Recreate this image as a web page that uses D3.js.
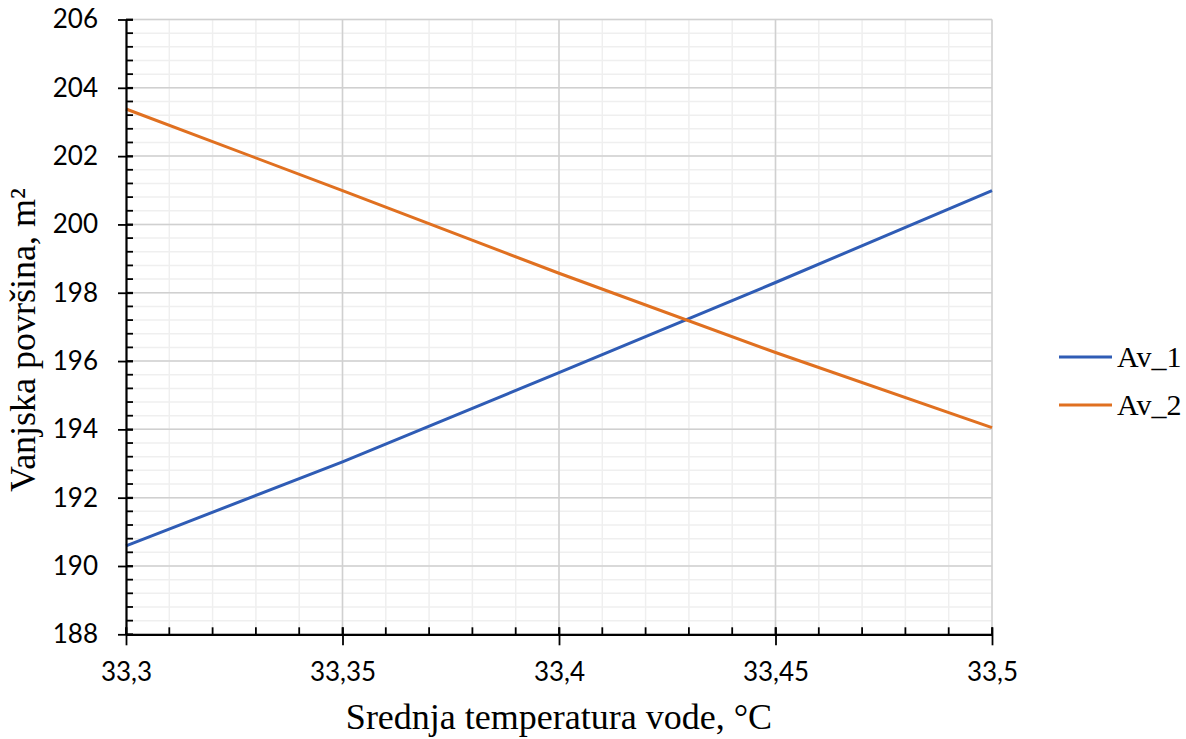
<!DOCTYPE html>
<meta charset="utf-8">
<style>
  body { margin: 0; background: #fff; }
  .tick text { font-family: Lato, "Open Sans", sans-serif; font-size: 26px; fill: #000; }
  .title { font-family: "Liberation Serif", "Times New Roman", serif; fill: #000; }
</style>
<script src="https://cdn.jsdelivr.net/npm/d3@7"></script>
<body>
<div id="graph"></div>
<script>
var temps = [33.3, 33.35, 33.4, 33.45, 33.5];
var av1 = [190.59, 193.05, 195.66, 198.30, 200.99];
var av2 = [203.38, 200.99, 198.57, 196.25, 194.05];
var seriesNames = ["Av_1", "Av_2"];
var colors = ["#2f5cb5", "#e07020"];
var xTicks = [33.3, 33.35, 33.4, 33.45, 33.5];
var yTicks = [188, 190, 192, 194, 196, 198, 200, 202, 204, 206];

var W = 1186, H = 739;
var pLeft = 126, pRight = 992, pTop = 19.5, pBottom = 634.3;

var svg = d3.select("#graph").append("svg")
  .attr("width", W).attr("height", H);

var x = d3.scaleLinear().domain([33.3, 33.5]).range([pLeft, pRight]);
var y = d3.scaleLinear().domain([188, 206]).range([pBottom, pTop]);

var fmt = function(d) { return String(+d.toFixed(2)).replace(".", ","); };

// minor grid
var xMinor = d3.range(0, 21).map(function(i) { return 33.3 + i * 0.01; });
var yMinor = d3.range(0, 46).map(function(i) { return 188 + i * 0.4; });

svg.append("g").selectAll("line").data(xMinor).enter().append("line")
  .attr("x1", d => x(d)).attr("x2", d => x(d))
  .attr("y1", pTop).attr("y2", pBottom)
  .attr("stroke", "#efefef").attr("stroke-width", 1.5);
svg.append("g").selectAll("line").data(yMinor).enter().append("line")
  .attr("x1", pLeft).attr("x2", pRight)
  .attr("y1", d => y(d)).attr("y2", d => y(d))
  .attr("stroke", "#efefef").attr("stroke-width", 1.5);

// major grid
svg.append("g").selectAll("line").data(xTicks.slice(1)).enter().append("line")
  .attr("x1", d => x(d)).attr("x2", d => x(d))
  .attr("y1", pTop).attr("y2", pBottom)
  .attr("stroke", "#d0d0d0").attr("stroke-width", 1.5);
svg.append("g").selectAll("line").data(yTicks.slice(1)).enter().append("line")
  .attr("x1", pLeft).attr("x2", pRight)
  .attr("y1", d => y(d)).attr("y2", d => y(d))
  .attr("stroke", "#d0d0d0").attr("stroke-width", 1.5);

// lines
var line = d3.line().x((d, i) => x(temps[i])).y(d => y(d));
[av1, av2].forEach(function(s, k) {
  svg.append("path").datum(s)
    .attr("d", line)
    .attr("fill", "none")
    .attr("stroke", colors[k])
    .attr("stroke-width", 3);
});

// minor ticks (inside)
svg.append("g").selectAll("line").data(xMinor).enter().append("line")
  .attr("x1", d => x(d)).attr("x2", d => x(d))
  .attr("y1", pBottom).attr("y2", pBottom - 7)
  .attr("stroke", "#000").attr("stroke-width", 1.8);
svg.append("g").selectAll("line").data(yMinor).enter().append("line")
  .attr("x1", pLeft).attr("x2", pLeft + 7)
  .attr("y1", d => y(d)).attr("y2", d => y(d))
  .attr("stroke", "#000").attr("stroke-width", 1.8);

// axes
var xAxis = svg.append("g")
  .attr("transform", "translate(0," + pBottom + ")")
  .call(d3.axisBottom(x).tickValues(xTicks).tickFormat(fmt).tickSizeInner(11).tickSizeOuter(0).tickPadding(17));
xAxis.selectAll(".tick line").attr("y1", -7);
var yAxis = svg.append("g")
  .attr("transform", "translate(" + pLeft + ",0)")
  .call(d3.axisLeft(y).tickValues(yTicks).tickSizeInner(8).tickSizeOuter(0).tickPadding(20));
yAxis.selectAll(".tick line").attr("x1", 7);
svg.selectAll(".domain").attr("stroke", "#000").attr("stroke-width", 2.2);
svg.selectAll(".tick line").attr("stroke", "#000").attr("stroke-width", 1.8);

// axis titles
svg.append("text").attr("class", "title")
  .attr("x", 559).attr("y", 729)
  .attr("text-anchor", "middle").style("font-size", "36px")
  .text("Srednja temperatura vode, °C");
svg.append("text").attr("class", "title")
  .attr("transform", "translate(35,340) rotate(-90)")
  .attr("text-anchor", "middle").style("font-size", "36px")
  .text("Vanjska površina, m²");

// legend
var legend = svg.selectAll(".legend").data(seriesNames).enter().append("g")
  .attr("transform", (d, i) => "translate(1059," + (357 + i * 48) + ")");
legend.append("line").attr("x1", 0).attr("x2", 53)
  .attr("stroke", (d, i) => colors[i]).attr("stroke-width", 3);
legend.append("text").attr("class", "title")
  .attr("x", 58).attr("y", 10).style("font-size", "30px")
  .text(d => d);
</script>
</body>
